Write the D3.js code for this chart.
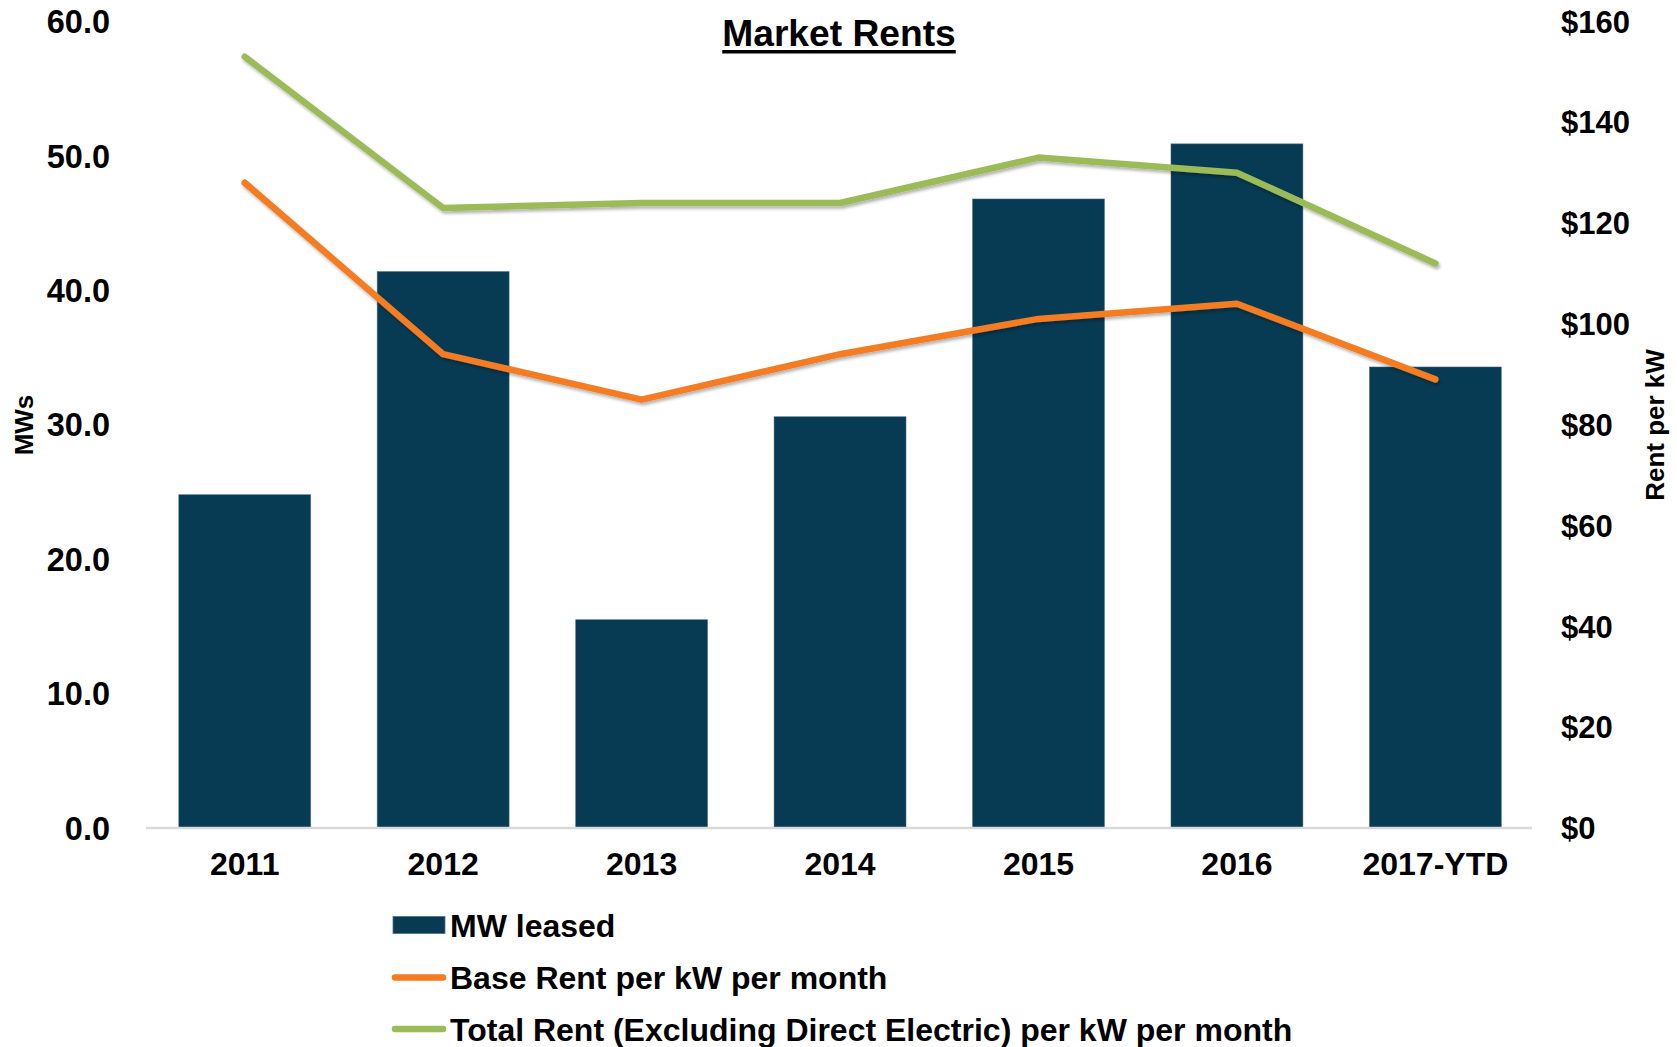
<!DOCTYPE html>
<html>
<head>
<meta charset="utf-8">
<script src="https://cdn.jsdelivr.net/npm/d3@7"></script>
<style>
  html, body { margin: 0; padding: 0; background: #ffffff; }
  svg { display: block; font-family: "Liberation Sans", Arial, sans-serif; font-weight: bold; }
</style>
</head>
<body>
<svg id="chart" width="1677" height="1047"></svg>
<script>
// ---- Data ----
const categories = ["2011", "2012", "2013", "2014", "2015", "2016", "2017-YTD"];
const mwLeased = [24.8, 41.4, 15.5, 30.6, 46.8, 50.9, 34.3];
const baseRent = [128, 94, 85, 94, 101, 104, 89];
const totalRent = [153, 123, 124, 124, 133, 130, 112];
const leftTicks = [0, 10, 20, 30, 40, 50, 60];
const rightTicks = [0, 20, 40, 60, 80, 100, 120, 140, 160];
const seriesNames = ["MW leased", "Base Rent per kW per month", "Total Rent (Excluding Direct Electric) per kW per month"];
const titleText = "Market Rents";
const leftAxisTitle = "MWs";
const rightAxisTitle = "Rent per kW";

// ---- Colors ----
const barColor = "#073B53";
const orange = "#F47B20";
const green = "#9BBB59";

const svg = d3.select("#chart");

const plot = { left: 146, right: 1532, top: 21.5, bottom: 828 };

const x = d3.scaleBand().domain(categories).range([plot.left, plot.left + 7 * 198.3])
  .paddingInner(0.335).paddingOuter(0.165);
const yL = d3.scaleLinear().domain([0, 60]).range([plot.bottom, plot.top]);
const yR = d3.scaleLinear().domain([0, 160]).range([plot.bottom, plot.top]);

// drop shadow for lines
const defs = svg.append("defs");
const f = defs.append("filter").attr("id", "shadow").attr("x", "-5%").attr("y", "-5%").attr("width", "110%").attr("height", "120%");
f.append("feDropShadow").attr("dx", 1.5).attr("dy", 2.5).attr("stdDeviation", 1.5)
  .attr("flood-color", "#000").attr("flood-opacity", 0.3);

// Bars
svg.append("g").selectAll("rect").data(categories).join("rect")
  .attr("x", d => x(d))
  .attr("width", x.bandwidth())
  .attr("y", (d, i) => yL(mwLeased[i]))
  .attr("height", (d, i) => yL(0) - yL(mwLeased[i]))
  .attr("fill", barColor)
  .attr("stroke", "#4f7385")
  .attr("stroke-width", 0.8)
  .attr("stroke-opacity", 0.6);

// X axis line
svg.append("line")
  .attr("x1", plot.left).attr("x2", plot.right)
  .attr("y1", plot.bottom).attr("y2", plot.bottom)
  .attr("stroke", "#d9d9d9").attr("stroke-width", 2.5);

// Lines
const lineGen = (vals) => d3.line()
  .x((d, i) => x(categories[i]) + x.bandwidth() / 2)
  .y(d => yR(d))(vals);

svg.append("path").attr("d", lineGen(baseRent))
  .attr("fill", "none").attr("stroke", orange).attr("stroke-width", 6.5)
  .attr("stroke-linecap", "round").attr("stroke-linejoin", "round")
  .attr("filter", "url(#shadow)");
svg.append("path").attr("d", lineGen(totalRent))
  .attr("fill", "none").attr("stroke", green).attr("stroke-width", 6.5)
  .attr("stroke-linecap", "round").attr("stroke-linejoin", "round")
  .attr("filter", "url(#shadow)");

// Left axis labels
svg.append("g").selectAll("text").data(leftTicks).join("text")
  .attr("x", 110).attr("y", d => yL(d))
  .attr("dy", "0.36em")
  .attr("text-anchor", "end")
  .attr("font-size", 32.5).attr("fill", "#000")
  .text(d => d3.format(".1f")(d));

// Right axis labels
svg.append("g").selectAll("text").data(rightTicks).join("text")
  .attr("x", 1561).attr("y", d => yR(d))
  .attr("dy", "0.36em")
  .attr("text-anchor", "start")
  .attr("font-size", 31).attr("fill", "#000")
  .text(d => "$" + d);

// X labels
svg.append("g").selectAll("text").data(categories).join("text")
  .attr("x", d => x(d) + x.bandwidth() / 2).attr("y", 875)
  .attr("text-anchor", "middle")
  .attr("font-size", 32).attr("fill", "#000")
  .text(d => d);

// Axis titles
svg.append("text")
  .attr("transform", "translate(24,425) rotate(-90)")
  .attr("text-anchor", "middle").attr("dy", "0.36em")
  .attr("font-size", 26).text(leftAxisTitle);
svg.append("text")
  .attr("transform", "translate(1655,425) rotate(-90)")
  .attr("text-anchor", "middle").attr("dy", "0.36em")
  .attr("font-size", 26).text(rightAxisTitle);

// Title
const title = svg.append("text")
  .attr("x", (plot.left + plot.right) / 2).attr("y", 45.5)
  .attr("text-anchor", "middle").attr("font-size", 37.2).text(titleText);
const tw = title.node().getComputedTextLength();
svg.append("rect")
  .attr("x", (plot.left + plot.right) / 2 - tw / 2).attr("width", tw)
  .attr("y", 50).attr("height", 3.5).attr("fill", "#000");

// Legend
const legendX = 393, legendTextX = 450;
const rowY = [925, 977.5, 1029];
const lg = svg.append("g");
lg.append("rect").attr("x", legendX).attr("y", rowY[0] - 8.5).attr("width", 52).attr("height", 17)
  .attr("fill", barColor).attr("stroke", "#4f7385").attr("stroke-width", 0.8);
lg.append("line").attr("x1", legendX + 2).attr("x2", legendX + 50).attr("y1", rowY[1]).attr("y2", rowY[1])
  .attr("stroke", orange).attr("stroke-width", 6.5).attr("stroke-linecap", "round");
lg.append("line").attr("x1", legendX + 2).attr("x2", legendX + 50).attr("y1", rowY[2]).attr("y2", rowY[2])
  .attr("stroke", green).attr("stroke-width", 6.5).attr("stroke-linecap", "round");
lg.selectAll("text").data(seriesNames).join("text")
  .attr("x", legendTextX).attr("y", (d, i) => rowY[i])
  .attr("dy", "0.36em").attr("font-size", 32).attr("fill", "#000")
  .text(d => d);
</script>
</body>
</html>
